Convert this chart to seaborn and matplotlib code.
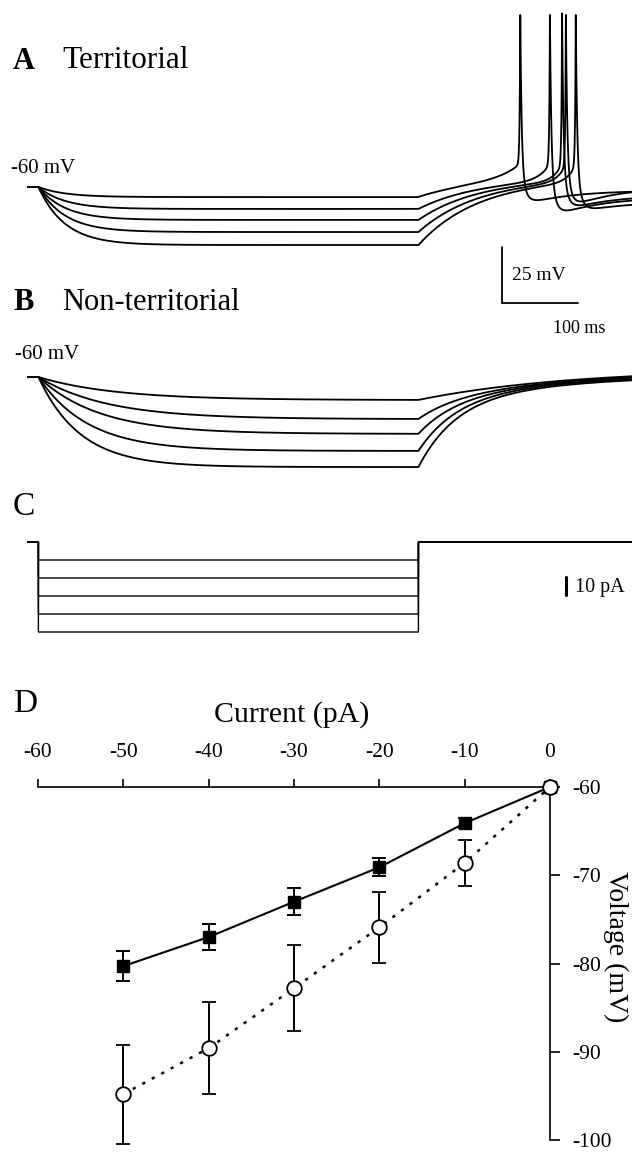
import numpy as np
import pandas as pd
import matplotlib
matplotlib.use("Agg")
import matplotlib.pyplot as plt
import seaborn as sns

# ---------------- data ----------------
# Panel D: I-V relation
current_pA = [-50, -40, -30, -20, -10, 0]
territorial_mV = [-80.3, -77.0, -73.0, -69.1, -64.1, -60.0]
territorial_err = [1.7, 1.5, 1.5, 1.0, 0.6, 0.0]
nonterritorial_mV = [-94.8, -89.6, -82.8, -75.9, -68.6, -60.0]
nonterritorial_err = [5.6, 5.2, 4.9, 4.0, 2.6, 0.0]
x_ticks = [-60, -50, -40, -30, -20, -10, 0]
y_ticks = [-60, -70, -80, -90, -100]

# Panel C: injected current steps (pA)
step_currents_pA = [-10, -20, -30, -40, -50]

# Sweep timing (ms) and resting potential
rest_mV = -60.0
t_on, t_off, t_end = 15.0, 515.0, 796.0

# Panel A (territorial) sweeps
a_step_levels = [-64.5, -69.8, -74.7, -80.1, -85.9]
a_spike_times = [649, 688, 704, 709, 722]
a_spike_peaks = [16.8, 16.8, 17.5, 16.8, 16.8]
a_ahp_mV = [-68.5, -74.0, -71.0, -70.0, -71.5]
a_end_mV = [-61.5, -64.5, -63.5, -60.0, -66.5]
a_ramp_tau = [30, 15, 12, 12, 12]

# Panel B (non-territorial) sweeps
b_step_levels = [-70.3, -78.8, -85.4, -93.0, -100.2]
b_tau_on = [100, 90, 80, 65, 55]
b_slow_target = [-56.2, -56.8, -57.3, -57.8, -58.5]

# ---------------- style ----------------
sns.set_theme(style="white")
plt.rcParams["font.family"] = ["Liberation Serif", "DejaVu Serif"]
plt.rcParams["axes.unicode_minus"] = False
plt.rcParams["text.color"] = "black"
plt.rcParams["axes.labelcolor"] = "black"
plt.rcParams["xtick.color"] = "black"
plt.rcParams["ytick.color"] = "black"

W, H = 639, 1152
fig = plt.figure(figsize=(W / 100, H / 100), dpi=100)


def rect(x0, y0, x1, y1):
    return [x0 / W, 1 - y1 / H, (x1 - x0) / W, (y1 - y0) / H]


def ftext(x, y, s, **kw):
    kw.setdefault("va", "baseline")
    kw.setdefault("ha", "left")
    kw.setdefault("color", "black")
    fig.text(x / W, 1 - y / H, s, **kw)


t = np.arange(0, t_end + 0.001, 0.25)


def territorial_sweep(level, ts, peak, ahp, vend, ramp_tau):
    tau_on, target, tau_reb, ramp_amp = 35.0, -56.0, 80.0, 8.0
    v = np.full(t.shape, rest_mV)
    on = (t >= t_on) & (t < t_off)
    v[on] = rest_mV + (level - rest_mV) * (1 - np.exp(-(t[on] - t_on) / tau_on))
    v_off = rest_mV + (level - rest_mV) * (1 - np.exp(-(t_off - t_on) / tau_on))

    def rec(tt):
        return (target + (v_off - target) * np.exp(-(tt - t_off) / tau_reb)
                + ramp_amp * np.exp((tt - ts) / ramp_tau))

    pre = (t >= t_off) & (t < ts)
    v[pre] = rec(t[pre])
    v_th = rec(ts)
    post = t >= ts
    d = t[post] - ts
    v[post] = vend + (ahp - vend) * np.exp(-d / 60) + (v_th - ahp) * np.exp(-d / 6)
    shape = np.where(t < ts, np.exp(np.minimum(t - ts, 0) / 0.8),
                     np.exp(-np.maximum(t - ts, 0) / 1.8))
    v = v + (peak - v_th) * shape * (t >= t_off)
    return v


def nonterritorial_sweep(level, tau_on, slow_target):
    slow_start = -70.3
    v = np.full(t.shape, rest_mV)
    on = (t >= t_on) & (t < t_off)
    v[on] = rest_mV + (level - rest_mV) * (1 - np.exp(-(t[on] - t_on) / tau_on))
    v_off = rest_mV + (level - rest_mV) * (1 - np.exp(-(t_off - t_on) / tau_on))
    post = t >= t_off
    d = t[post] - t_off
    slow = slow_target + (slow_start - slow_target) * np.exp(-d / 200)
    v[post] = slow + (v_off - slow_start) * np.exp(-d / 50)
    return v


rows_a, rows_b, rows_c = [], [], []
for i in range(5):
    va = territorial_sweep(a_step_levels[i], a_spike_times[i], a_spike_peaks[i],
                           a_ahp_mV[i], a_end_mV[i], a_ramp_tau[i])
    vb = nonterritorial_sweep(b_step_levels[i], b_tau_on[i], b_slow_target[i])
    ic = np.where((t >= t_on) & (t < t_off), step_currents_pA[i], 0.0)
    rows_a.append(pd.DataFrame({"t": t, "v": va, "sweep": i}))
    rows_b.append(pd.DataFrame({"t": t, "v": vb, "sweep": i}))
    rows_c.append(pd.DataFrame({"t": t, "i": ic, "sweep": i}))
df_a = pd.concat(rows_a)
df_b = pd.concat(rows_b)
df_c = pd.concat(rows_c)

# px scale: 0.76 px/ms, 2.24 px/mV, 1.8 px/pA
# ---------------- Panel A ----------------
ax_a = fig.add_axes(rect(27, 0, 632, 330))
sns.lineplot(data=df_a, x="t", y="v", units="sweep", estimator=None, sort=False,
             color="black", lw=1.3, ax=ax_a, legend=False)
ax_a.set_xlim(0, t_end)
ax_a.set_ylim(-60 - (330 - 187) / 2.24, -60 + 187 / 2.24)
ax_a.axis("off")
# scale bar 25 mV / 100 ms
sb_t, sb_v = 625, -86.8
ax_a.plot([sb_t, sb_t, sb_t + 100], [sb_v, sb_v - 25, sb_v - 25], color="black",
          lw=1.3, clip_on=False, solid_joinstyle="miter")

# ---------------- Panel B ----------------
ax_b = fig.add_axes(rect(27, 330, 632, 510))
sns.lineplot(data=df_b, x="t", y="v", units="sweep", estimator=None, sort=False,
             color="black", lw=1.3, ax=ax_b, legend=False)
ax_b.set_xlim(0, t_end)
ax_b.set_ylim(-60 - (510 - 377) / 2.24, -60 + (377 - 330) / 2.24)
ax_b.axis("off")

# ---------------- Panel C ----------------
ax_c = fig.add_axes(rect(27, 530, 632, 650))
sns.lineplot(data=df_c, x="t", y="i", units="sweep", estimator=None, sort=False,
             color="black", lw=1.0, ax=ax_c, legend=False, drawstyle="steps-post")
ax_c.set_xlim(0, t_end)
ax_c.set_ylim(-(650 - 542) / 1.8, (542 - 530) / 1.8)
ax_c.axis("off")
ax_c.plot([709, 709], [-19.4, -29.4], color="black", lw=2.2, clip_on=False)

# ---------------- Panel D ----------------
ax_d = fig.add_axes(rect(38, 787, 550, 1140))
df_t = pd.DataFrame({"I": current_pA, "V": territorial_mV})
df_n = pd.DataFrame({"I": current_pA, "V": nonterritorial_mV})
sns.lineplot(data=df_t, x="I", y="V", color="black", lw=1.5, ax=ax_d)
sns.lineplot(data=df_n, x="I", y="V", color="black", lw=1.8, ax=ax_d,
             linestyle=(0, (1.3, 3.0)))
ax_d.errorbar(current_pA, territorial_mV, yerr=territorial_err, fmt="s", color="black",
              ms=8, capsize=5, elinewidth=1.4, capthick=1.4, clip_on=False, zorder=3)
ax_d.errorbar(current_pA, nonterritorial_mV, yerr=nonterritorial_err, fmt="o",
              color="black", mfc="white", mec="black", mew=1.3, ms=10.5, capsize=5,
              elinewidth=1.4, capthick=1.4, clip_on=False, zorder=4)
ax_d.set_xlim(-60, 0)
ax_d.set_ylim(-100, -60)
ax_d.set_xticks(x_ticks)
ax_d.set_yticks(y_ticks)
ax_d.xaxis.tick_top()
ax_d.yaxis.tick_right()
for s in ("left", "bottom"):
    ax_d.spines[s].set_visible(False)
for s in ("top", "right"):
    ax_d.spines[s].set_visible(True)
    ax_d.spines[s].set_color("black")
    ax_d.spines[s].set_linewidth(1.2)
ax_d.tick_params(axis="x", which="major", direction="out", length=6, width=1.2,
                 pad=12, labelsize=15.5, colors="black", top=True, bottom=False)
ax_d.tick_params(axis="y", which="major", direction="out", length=7, width=1.2,
                 pad=9, labelsize=15.5, colors="black", right=True, left=False)
ax_d.set_xlabel("Current (pA)", fontsize=21.5, va="baseline", ha="center", color="black")
ax_d.xaxis.set_label_position("top")
ax_d.xaxis.set_label_coords((292 - 38) / 512, (1140 - 722) / 353)
ax_d.set_ylabel("Voltage (mV)", fontsize=20, rotation=-90, va="center", ha="center",
                color="black")
ax_d.yaxis.set_label_position("right")
ax_d.yaxis.set_label_coords((628 - 38) / 512, (1140 - 947) / 353)
ax_d.grid(False)
ax_d.set_facecolor("none")

# ---------------- texts ----------------
ftext(13, 69, "A", fontsize=22, fontweight="bold")
ftext(62, 68, "Territorial", fontsize=22.5)
ftext(11, 173, "-60 mV", fontsize=15)
ftext(512, 280, "25 mV", fontsize=14)
ftext(13, 310, "B", fontsize=22, fontweight="bold")
ftext(62, 310, "Non-territorial", fontsize=22)
ftext(553, 333, "100 ms", fontsize=13)
ftext(15, 359, "-60 mV", fontsize=15)
ftext(13, 515, "C", fontsize=24)
ftext(575, 592, "10 pA", fontsize=14.5)
ftext(13, 712, "D", fontsize=24)

fig.savefig("out.png", dpi=100, facecolor="white")
